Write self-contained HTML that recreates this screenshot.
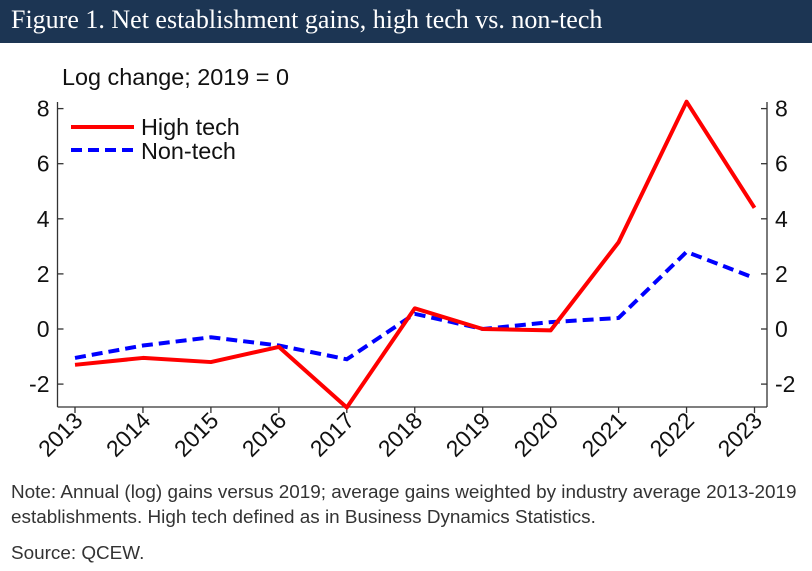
<!DOCTYPE html>
<html><head><meta charset="utf-8"><style>
body{margin:0;width:812px;height:571px;background:#fff;overflow:hidden;font-family:"Liberation Sans",sans-serif}
.hdr{position:absolute;left:0;top:0;width:812px;height:43px;background:#1c3553}
.hdr span{position:absolute;left:11px;top:5px;color:#fff;font-family:"Liberation Serif",serif;font-size:26px;white-space:nowrap}
.note{position:absolute;left:11px;font-size:18.9px;color:#333;line-height:25px;white-space:nowrap}
</style></head><body>
<div class="hdr"><span>Figure 1. Net establishment gains, high tech vs. non-tech</span></div>
<svg id="c" width="812" height="571" style="position:absolute;left:0;top:0"></svg>
<div class="note" style="top:480px">Note: Annual (log) gains versus 2019; average gains weighted by industry average 2013-2019<br>establishments. High tech defined as in Business Dynamics Statistics.</div>
<div class="note" style="top:541px">Source: QCEW.</div>
<script>
const years=[2013,2014,2015,2016,2017,2018,2019,2020,2021,2022,2023];
const highTech=[-1.3,-1.05,-1.2,-0.65,-2.85,0.75,0,-0.05,3.15,8.25,4.4];
const nonTech=[-1.05,-0.6,-0.3,-0.6,-1.1,0.55,0,0.25,0.4,2.8,1.85];
const yTicks=[-2,0,2,4,6,8];
const NS='http://www.w3.org/2000/svg';
const svg=document.getElementById('c');
const L=57.5,R=767,T=102,B=407;
const x=i=>75+i*67.95;
const y=v=>329-v*27.55;
function mk(t,a,p){const e=document.createElementNS(NS,t);for(const k in a)e.setAttribute(k,a[k]);(p||svg).appendChild(e);return e;}
let e;
e=mk('line',{x1:L,y1:T,x2:L,y2:B,stroke:'#333','stroke-width':1.3});


e=mk('line',{x1:R,y1:T,x2:R,y2:B,stroke:'#333','stroke-width':1.3});


e=mk('line',{x1:L,y1:B,x2:R,y2:B,stroke:'#333','stroke-width':1.3});


yTicks.forEach(v=>{
 mk('line',{x1:L,y1:y(v),x2:L+6,y2:y(v),stroke:'#333','stroke-width':1.3});
 mk('line',{x1:R-6,y1:y(v),x2:R,y2:y(v),stroke:'#333','stroke-width':1.3});
 e=mk('text',{x:L-8,y:y(v)+8,'text-anchor':'end','font-size':23,fill:'#111'});e.textContent=v;
 
 
 e=mk('text',{x:R+8,y:y(v)+8,'text-anchor':'start','font-size':23,fill:'#111'});e.textContent=v;
 
 
});
years.forEach((yr,i)=>{
 mk('line',{x1:x(i),y1:B,x2:x(i),y2:B+6,stroke:'#333','stroke-width':1.3});
 e=mk('text',{x:x(i)+9,y:B+15,'text-anchor':'end','font-size':23,fill:'#111',transform:`rotate(-45 ${x(i)+9} ${B+15})`});e.textContent=yr;
 
 
});
e=mk('text',{x:62,y:85,'font-size':23.4,fill:'#111'});e.textContent='Log change; 2019 = 0';


e=mk('polyline',{points:nonTech.map((v,i)=>x(i)+','+y(v)).join(' '),fill:'none',stroke:'#0000ff','stroke-width':4,'stroke-dasharray':'11 6'});


e=mk('polyline',{points:highTech.map((v,i)=>x(i)+','+y(v)).join(' '),fill:'none',stroke:'#ff0000','stroke-width':4,'stroke-linejoin':'round'});


const lg=mk('g',{});


mk('line',{x1:71,y1:127,x2:134,y2:127,stroke:'#ff0000','stroke-width':4},lg);
e=mk('text',{x:141,y:135,'font-size':23.4,fill:'#111'},lg);e.textContent='High tech';


mk('line',{x1:71,y1:150,x2:134,y2:150,stroke:'#0000ff','stroke-width':4,'stroke-dasharray':'11 6'},lg);
e=mk('text',{x:141,y:159,'font-size':23.4,fill:'#111'},lg);e.textContent='Non-tech';


</script>
</body></html>
